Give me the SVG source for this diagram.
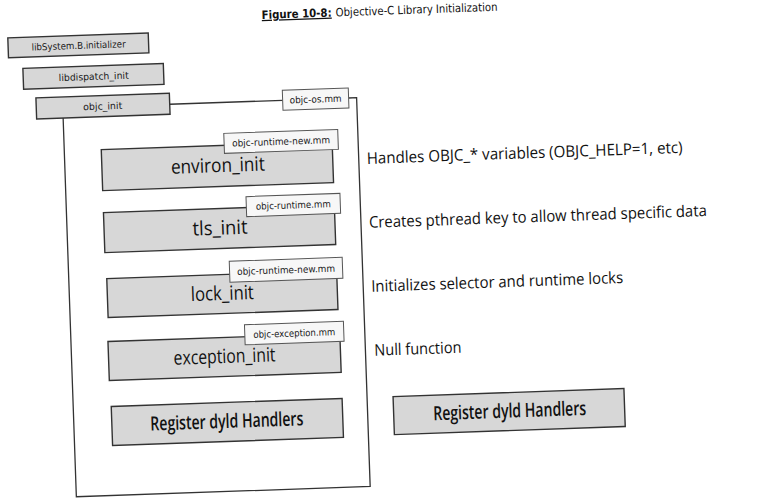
<svg xmlns="http://www.w3.org/2000/svg" width="760" height="504" viewBox="0 0 760 504">
<style>
.g{fill:#d7d7d7;stroke:#333;stroke-width:1.4}
.w{fill:#f7f7f7;stroke:#555;stroke-width:1}
.ln{fill:none;stroke:#333;stroke-width:1.3}
.big{font-family:"Open Sans","Noto Sans",sans-serif;font-size:19.5px;fill:#111;text-anchor:middle;font-weight:500}
.reg{font-weight:600}
.sm{font-family:"DejaVu Sans",sans-serif;font-size:9.5px;fill:#1a1a1a;text-anchor:middle}
.desc{font-family:"Open Sans","Noto Sans",sans-serif;font-size:16px;fill:#111}
.title{font-family:"DejaVu Sans",sans-serif;font-size:11.5px;fill:#111}
</style>
<rect width="760" height="504" fill="#ffffff"/>
<g transform="rotate(-2 380 252)">
  <g id="title">
    <text class="title" x="270" y="15"><tspan font-weight="bold" text-decoration="underline" textLength="70" lengthAdjust="spacingAndGlyphs">Figure 10-8:</tspan><tspan dx="4" textLength="162" lengthAdjust="spacingAndGlyphs">Objective-C Library Initialization</tspan></text>
  </g>
  <g id="connectors">
    <path class="ln" d="M175,97 H288 M354,97 H362 V486 H68 V107"/>
  </g>
  <g id="libSystem">
    <rect class="g" x="15.5" y="25" width="140.5" height="20"/>
    <text class="sm" x="86" y="38.5" textLength="94" lengthAdjust="spacingAndGlyphs">libSystem.B.initializer</text>
  </g>
  <g id="libdispatch">
    <rect class="g" x="29.5" y="56" width="140.5" height="21"/>
    <text class="sm" x="100" y="70" textLength="70" lengthAdjust="spacingAndGlyphs">libdispatch_init</text>
  </g>
  <g id="objc_init">
    <rect class="g" x="41.5" y="86" width="133.5" height="21"/>
    <text class="sm" x="108" y="100" textLength="39" lengthAdjust="spacingAndGlyphs">objc_init</text>
  </g>
  <g id="objc-os">
    <rect class="w" x="288" y="87" width="66" height="20"/>
    <text class="sm" x="321" y="100.5" textLength="52" lengthAdjust="spacingAndGlyphs">objc-os.mm</text>
  </g>
  <g id="environ_init">
    <rect class="g" x="105" y="140" width="231" height="41"/>
    <text class="big" x="221" y="166.5" textLength="94" lengthAdjust="spacingAndGlyphs">environ_init</text>
  </g>
  <g id="file-environ">
    <rect class="w" x="228" y="128" width="114" height="20"/>
    <text class="sm" x="285" y="141.5" textLength="98" lengthAdjust="spacingAndGlyphs">objc-runtime-new.mm</text>
  </g>
  <g id="tls_init">
    <rect class="g" x="105" y="203" width="231" height="40"/>
    <text class="big" x="221" y="229" textLength="55" lengthAdjust="spacingAndGlyphs">tls_init</text>
  </g>
  <g id="file-tls">
    <rect class="w" x="248" y="192" width="94" height="20"/>
    <text class="sm" x="295" y="205.5" textLength="75" lengthAdjust="spacingAndGlyphs">objc-runtime.mm</text>
  </g>
  <g id="lock_init">
    <rect class="g" x="106" y="269" width="230" height="39"/>
    <text class="big" x="221" y="294.5" textLength="63" lengthAdjust="spacingAndGlyphs">lock_init</text>
  </g>
  <g id="file-lock">
    <rect class="w" x="229" y="256" width="113" height="21"/>
    <text class="sm" x="285.5" y="270" textLength="98" lengthAdjust="spacingAndGlyphs">objc-runtime-new.mm</text>
  </g>
  <g id="exception_init">
    <rect class="g" x="105" y="332" width="232" height="39"/>
    <text class="big" x="221" y="357.5" textLength="102" lengthAdjust="spacingAndGlyphs">exception_init</text>
  </g>
  <g id="file-exception">
    <rect class="w" x="242" y="320" width="99" height="20"/>
    <text class="sm" x="291.5" y="333.5" textLength="82" lengthAdjust="spacingAndGlyphs">objc-exception.mm</text>
  </g>
  <g id="register-inner">
    <rect class="g" x="106" y="397" width="231" height="39"/>
    <text class="big reg" x="221" y="422.5" textLength="153" lengthAdjust="spacingAndGlyphs">Register  dyld Handlers</text>
  </g>
  <g id="register-outer">
    <rect class="g" x="388" y="397" width="231" height="38"/>
    <text class="big reg" x="504" y="422" textLength="153" lengthAdjust="spacingAndGlyphs">Register  dyld Handlers</text>
  </g>
  <g id="descriptions">
    <text class="desc" x="370" y="163.5" textLength="316" lengthAdjust="spacingAndGlyphs">Handles OBJC_* variables (OBJC_HELP=1, etc)</text>
    <text class="desc" x="370" y="227.5" textLength="338" lengthAdjust="spacingAndGlyphs">Creates pthread key to allow thread specific data</text>
    <text class="desc" x="370" y="291.5" textLength="252" lengthAdjust="spacingAndGlyphs">Initializes selector and runtime locks</text>
    <text class="desc" x="371" y="355.5" textLength="87" lengthAdjust="spacingAndGlyphs">Null function</text>
  </g>
</g>
</svg>
